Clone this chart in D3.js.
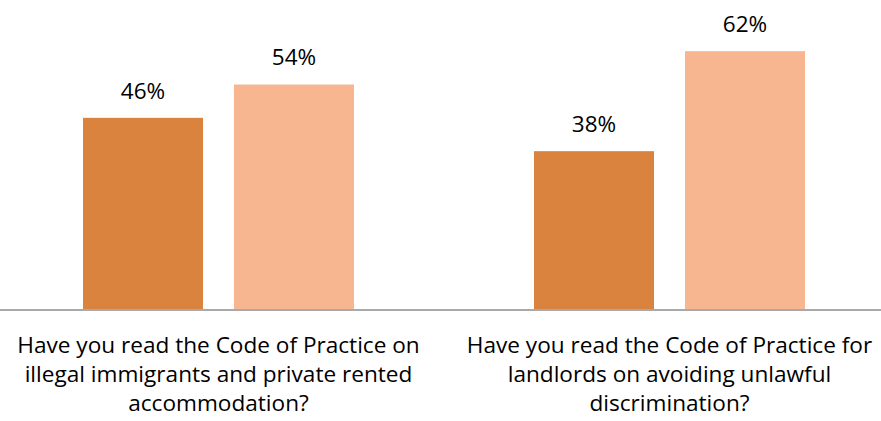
<!DOCTYPE html>
<html>
<head>
<meta charset="utf-8">
<script src="https://cdn.jsdelivr.net/npm/d3@7"></script>
<style>
  html, body { margin: 0; padding: 0; background: #fff; }
  svg { display: block; }
  text { font-family: "Open Sans", "Noto Sans", sans-serif; fill: #000; }
</style>
</head>
<body>
<svg id="chart" width="881" height="421"></svg>
<script>
const categories = [
  "Have you read the Code of Practice on illegal immigrants and private rented accommodation?",
  "Have you read the Code of Practice for landlords on avoiding unlawful discrimination?"
];
const categoryLines = [
  ["Have you read the Code of Practice on", "illegal immigrants and private rented", "accommodation?"],
  ["Have you read the Code of Practice for", "landlords on avoiding unlawful", "discrimination?"]
];
const seriesNames = ["Yes", "No"];
const yesValues = [46, 38];
const noValues = [54, 62];
const seriesColors = ["#D9833F", "#F7B590"];

const svg = d3.select("#chart");
const W = 881, H = 421;
const baseY = 309.5;

const x0 = d3.scaleBand().domain(categories).range([-7, 895]).padding(0);
const x1 = d3.scaleBand().domain(seriesNames).range([90, 361]).paddingInner(0.2053).paddingOuter(0);
const y = d3.scaleLinear().domain([0, 70]).range([baseY, baseY - 70 * 4.1667]);

const seriesValues = [yesValues, noValues];
const data = [];
categories.forEach((c, i) => {
  seriesNames.forEach((s, j) => {
    data.push({ cat: c, ser: s, val: seriesValues[j][i], color: seriesColors[j] });
  });
});

svg.append("g").selectAll("rect").data(data).join("rect")
  .attr("x", d => x0(d.cat) + x1(d.ser))
  .attr("width", x1.bandwidth())
  .attr("y", d => y(d.val))
  .attr("height", d => baseY - y(d.val))
  .attr("fill", d => d.color);

svg.append("g").selectAll("text").data(data).join("text")
  .attr("x", d => x0(d.cat) + x1(d.ser) + x1.bandwidth() / 2)
  .attr("y", d => y(d.val) - 19)
  .attr("text-anchor", "middle")
  .attr("font-size", 22.5)
  .text(d => d.val + "%");

// axis line
svg.append("line")
  .attr("x1", 0).attr("x2", W)
  .attr("y1", 310).attr("y2", 310)
  .attr("stroke", "#a9a9a9").attr("stroke-width", 2);

// category labels
const cx = d => x0(d) + (90 + 361) / 2;
const lab = svg.append("g").selectAll("text").data(categories).join("text")
  .attr("text-anchor", "middle")
  .attr("font-size", 22.6);
lab.each(function(d, i) {
  const t = d3.select(this);
  categoryLines[i].forEach((ln, k) => {
    t.append("tspan").attr("x", cx(d)).attr("y", 353 + k * 29).text(ln);
  });
});
</script>
</body>
</html>
